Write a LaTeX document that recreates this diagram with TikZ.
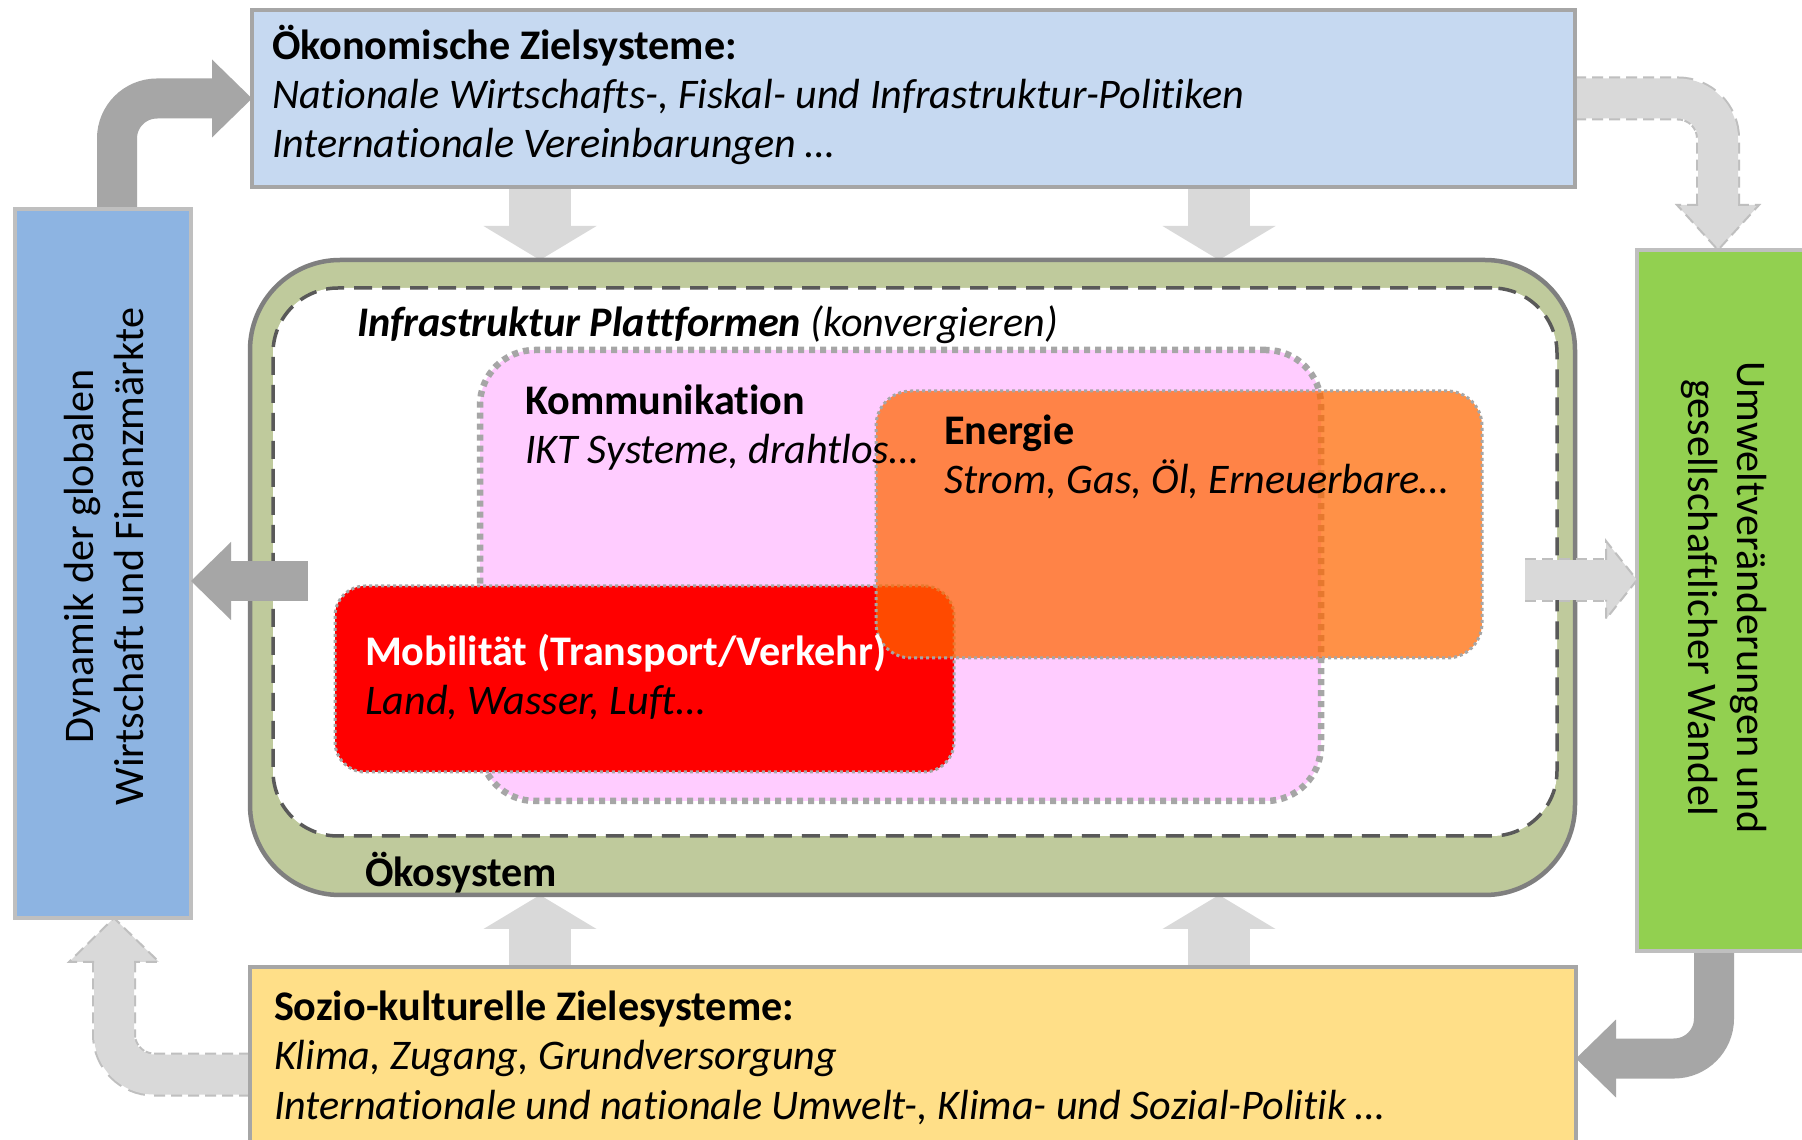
\documentclass[tikz,border=0pt]{standalone}
\usepackage{fontspec}
\setmainfont{Carlito}[Ligatures=NoCommon]
\usetikzlibrary{arrows.meta,calc,backgrounds}

\definecolor{oekoblue}{HTML}{C6D9F1}
\definecolor{dynblue}{HTML}{8DB4E2}
\definecolor{umwgreen}{HTML}{92D050}
\definecolor{soziyellow}{HTML}{FFDF88}
\definecolor{ecogreen}{HTML}{BFCA9C}
\definecolor{ecoline}{HTML}{7F7F7F}
\definecolor{infraline}{HTML}{595959}
\definecolor{kommpink}{HTML}{FFCCFF}
\definecolor{mobred}{HTML}{FF0000}
\definecolor{energieorange}{HTML}{FF6700}
\definecolor{arrowdark}{HTML}{A6A6A6}
\definecolor{arrowlight}{HTML}{D9D9D9}
\definecolor{arrowedge}{HTML}{BFBFBF}
\definecolor{boxline}{HTML}{A6A6A6}
\definecolor{sideline}{HTML}{BFBFBF}
\definecolor{dotline}{HTML}{A6A6A6}

\tikzset{
  txt/.style={inner sep=0pt, outer sep=0pt, align=left, font=\fontsize{12pt}{14pt}\selectfont},
  box/.style={draw=boxline, line width=0.45mm, inner sep=0pt, outer sep=0pt},
  sidebox/.style={box, draw=sideline},
  field/.style={inner sep=0pt, outer sep=0pt, draw=dotline, line width=0.3mm, dash pattern=on 0.3mm off 0.3mm},
  darkarrow/.style={draw=arrowdark, line width=4mm, rounded corners=4mm,
    -{Triangle[width=7.8mm, length=4mm, line width=0pt]}},
  blockarrow/.style={draw=arrowlight, line width=6.2mm,
    -{Triangle[width=11.3mm, length=3.4mm, line width=0pt]}},
  lightedge/.style={draw=arrowedge, line width=4.4mm, rounded corners=4mm, dash pattern=on 1.1mm off 0.6mm},
  lightshaft/.style={draw=arrowlight, line width=4mm, rounded corners=4mm},
  lighthead/.style={fill=arrowlight, draw=arrowedge, line width=0.2mm, dash pattern=on 1.1mm off 0.6mm},
}

\begin{document}
\begin{tikzpicture}[x=0.1mm, y=-0.1mm]
  \useasboundingbox (0,0) rectangle (1802,1140);

  % the four outer boxes
  \node[box, fill=oekoblue, minimum width=132.3mm, minimum height=17.7mm] (oeko) at (913.5,98.5) {};
  \node[sidebox, fill=dynblue, minimum width=17.6mm, minimum height=70.9mm] (dyn) at (103,563.5) {};
  \node[sidebox, fill=umwgreen, minimum width=18mm, minimum height=70.1mm] (umw) at (1727,600.5) {};
  \node[box, fill=soziyellow, minimum width=132.6mm, minimum height=18.3mm] (sozio) at (913,1058.5) {};

  % eco system with the platforms inside
  \node[inner sep=0pt, outer sep=0pt, fill=ecogreen, draw=ecoline, line width=0.45mm,
        rounded corners=9mm, minimum width=132.5mm, minimum height=63.5mm] (eco) at (912.5,577.5) {};
  \node[inner sep=0pt, outer sep=0pt, fill=white, draw=infraline, line width=0.35mm,
        dash pattern=on 1.8mm off 1mm, rounded corners=6.5mm,
        minimum width=128.4mm, minimum height=54.8mm] (infra) at (915,562) {};
  \node[field, fill=kommpink, line width=0.65mm, dash pattern=on 0.6mm off 0.5mm,
        rounded corners=5.5mm, minimum width=84.1mm, minimum height=45.1mm] (komm) at (900.5,575.5) {};
  \node[field, fill=mobred, rounded corners=3mm,
        minimum width=61.9mm, minimum height=18.6mm] (mob) at (644.5,679) {};
  \node[field, fill=energieorange, fill opacity=0.72, rounded corners=3.5mm,
        minimum width=60.6mm, minimum height=26.7mm] (energie) at (1179,524.5) {};

  % arrows behind the boxes
  \begin{pgfonlayer}{background}
    \fill[white] (0,0) rectangle (1802,1140);

    % dark arrows round the corners
    \draw[darkarrow] ([xshift=1.4mm]dyn.north) |- (oeko.west);
    \draw[darkarrow] ([xshift=-1.3mm]umw.south) |- (sozio.east);

    % light arrows round the corners
    \coordinate (trtip) at ([xshift=-0.9mm]umw.north);
    \coordinate (trbase) at ([yshift=4.5mm]trtip);
    \draw[lightedge] (oeko.east) -| (trbase);
    \draw[lightshaft] (oeko.east) -| (trbase);
    \filldraw[lighthead] ([xshift=-2mm]trbase) -- ([xshift=-4.1mm]trbase) -- (trtip)
      -- ([xshift=4.1mm]trbase) -- ([xshift=2mm]trbase);

    \coordinate (bltip) at ([xshift=1.1mm]dyn.south);
    \coordinate (blbase) at ([yshift=-4.4mm]bltip);
    \draw[lightedge] ([yshift=-1.6mm]sozio.west) -| (blbase);
    \draw[lightshaft] ([yshift=-1.6mm]sozio.west) -| (blbase);
    \filldraw[lighthead] ([xshift=-2mm]blbase) -- ([xshift=-4.5mm]blbase) -- (bltip)
      -- ([xshift=4.5mm]blbase) -- ([xshift=2mm]blbase);

    % block arrows into the eco system
    \coordinate (colL) at (540,0);
    \coordinate (colR) at (1219,0);
    \foreach \col in {colL,colR} {
      \draw[blockarrow] (oeko.south -| \col) -- (eco.north -| \col);
      \draw[blockarrow] (sozio.south -| \col) -- (eco.south -| \col);
    }
  \end{pgfonlayer}

  % arrows out of the eco system
  \coordinate (mlstart) at (308,581);
  \draw[darkarrow] (mlstart) -- (mlstart -| dyn.east);

  \coordinate (mrstart) at (1525,580);
  \coordinate (mrtip) at (mrstart -| umw.west);
  \coordinate (mrbase) at ([xshift=-3.1mm]mrtip);
  \draw[lightedge] (mrstart) -- (mrbase);
  \draw[lightshaft] (mrstart) -- (mrbase);
  \filldraw[lighthead] ([yshift=2mm]mrbase) -- ([yshift=3.9mm]mrbase) -- (mrtip)
    -- ([yshift=-3.9mm]mrbase) -- ([yshift=-2mm]mrbase);

  % texts (base is the last line)
  \node[txt, anchor=base west] (oekotext) at ([shift={(20,148)}]oeko.north west)
    {\textbf{Ökonomische Zielsysteme:}\\
     \textit{Nationale Wirtschafts-, Fiskal- und Infrastruktur-Politiken}\\
     \textit{Internationale Vereinbarungen …}};
  \node[txt, anchor=base west] (soziotext) at ([shift={(24,152)}]sozio.north west)
    {\textbf{Sozio-kulturelle Zielesysteme:}\\
     \textit{Klima, Zugang, Grundversorgung}\\
     \textit{Internationale und nationale Umwelt-, Klima- und Sozial-Politik …}};
  \node[txt, align=center, rotate=90] (dyntext) at ([shift={(1,-7)}]dyn.center)
    {Dynamik der globalen\\Wirtschaft und Finanzmärkte};
  \node[txt, align=center, rotate=-90] (umwtext) at ([shift={(-3,-3)}]umw.center)
    {Umweltveränderungen und\\gesellschaftlicher Wandel};
  \node[txt, anchor=base west] (ecotext) at ([shift={(115,-8)}]eco.south west)
    {\textbf{Ökosystem}};
  \node[txt, anchor=base west] (infratext) at ([shift={(84,49)}]infra.north west)
    {\textbf{\textit{Infrastruktur Plattformen}} \textit{(konvergieren)}};
  \node[txt, anchor=base west] (kommtext) at ([shift={(45,114)}]komm.north west)
    {\textbf{Kommunikation}\\ \textit{IKT Systeme, drahtlos…}};
  \node[txt, anchor=base west] (energietext) at ([shift={(68,103)}]energie.north west)
    {\textbf{Energie}\\ \textit{Strom, Gas, Öl, Erneuerbare…}};
  \node[txt, anchor=base west] (mobtext) at ([shift={(30,129)}]mob.north west)
    {\textcolor{white}{\textbf{Mobilität (Transport/Verkehr)}}\\ \textit{Land, Wasser, Luft…}};
\end{tikzpicture}
\end{document}
